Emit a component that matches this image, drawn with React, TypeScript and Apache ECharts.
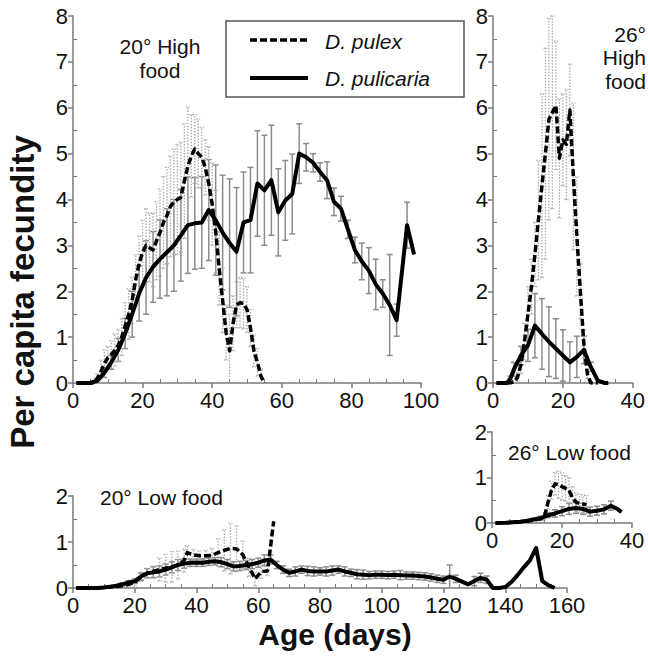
import React, { useEffect, useRef } from "react";
import * as echarts from "echarts";

const FONT = '"Liberation Sans", Arial, Helvetica, sans-serif';
const AXIS = "#7a7a7a";
const TXT = "#111";

// [day, mean, sd] — 20° High food
const pulex20High = [
  [1,0,0],[2,0,0],[3,0,0],[4,0,0],[5,0,0],[6,0,0],[7,0.1,0.1],[8,0.25,0.25],[9,0.42,0.3],[10,0.55,0.25],
  [11,0.62,0.3],[12,0.72,0.35],[13,0.82,0.35],[14,1.0,0.4],[15,1.25,0.5],[16,1.5,0.55],[17,1.8,0.5],[18,2.25,0.55],
  [19,2.6,0.6],[20,2.85,0.7],[21,3.0,0.8],[22,2.95,0.75],[23,2.9,0.8],[24,3.1,0.85],[25,3.28,0.95],[26,3.5,1.0],
  [27,3.65,1.05],[28,3.85,1.1],[29,3.95,1.15],[30,4.0,1.2],[31,4.05,1.2],[32,4.4,1.25],[33,4.72,1.3],[34,4.95,0.9],
  [35,5.1,0.75],[36,5.0,0.75],[37,4.92,0.65],[38,4.7,0.6],[39,4.35,0.8],[40,3.9,0.9],[41,3.3,0.9],[42,2.5,0.8],
  [43,1.8,0.7],[44,1.1,0.6],[45,0.7,0.8],[46,1.3,0.6],[47,1.7,0.5],[48,1.75,0.55],[49,1.73,0.55],[50,1.6,0.5],
  [51,1.2,0.4],[52,0.7,0.35],[53,0.45,0.3],[54,0.15,0.15],[55,0,0]
];
const pulicaria20High = [
  [1,0,0],[3,0,0],[5,0,0],[7,0.05,0.05],[9,0.22,0.1],[11,0.45,0.15],[13,0.72,0.25],[15,1.08,0.33],[17,1.5,0.5],
  [19,1.95,0.6],[21,2.3,0.8],[23,2.53,0.77],[25,2.7,0.85],[27,2.85,0.95],[29,3.0,1.0],[31,3.22,1.0],[33,3.44,1.05],
  [35,3.48,1.0],[37,3.5,1.0],[39,3.77,1.1],[41,3.55,1.2],[43,3.28,1.25],[45,3.05,1.4],[47,2.86,1.4],[49,3.5,1.1],
  [51,3.55,1.15],[53,4.35,1.15],[55,4.2,1.2],[57,4.42,1.2],[59,3.72,0.95],[61,3.98,0.87],[63,4.12,0.87],[65,5.0,0.65],
  [67,4.92,0.3],[69,4.8,0.2],[71,4.6,0.2],[73,4.42,0.4],[75,3.95,0.3],[77,3.8,0.27],[79,3.35,0.2],[81,2.9,0.28],
  [83,2.65,0.4],[85,2.45,0.5],[87,2.15,0.55],[89,1.95,0.3],[91,1.7,1.1],[93,1.37,0.35],[96,3.44,0.5],[98,2.8,0]
];

// 26° High food
const pulex26High = [
  [1,0,0],[2,0,0],[3,0,0],[4,0,0],[5,0,0],[6,0.03,0.03],[7,0.12,0.1],[8,0.4,0.2],[9,0.9,0.4],[10,1.5,0.6],
  [11,2.1,0.6],[12,2.8,0.7],[13,3.55,1.3],[14,4.3,2.0],[15,5.0,2.3],[16,5.75,2.2],[17,5.9,2.1],[18,6.05,1.4],
  [19,4.9,1.3],[20,5.3,1.0],[21,5.2,1.2],[22,5.95,1.0],[23,4.5,1.6],[24,3.2,1.3],[25,2.0,0.6],[26,0.85,0.3],
  [27,0.2,0.1],[28,0,0],[29,0,0],[30,0,0]
];
const pulicaria26High = [
  [1,0,0],[3,0,0],[4,0,0],[5,0.1,0.05],[6,0.3,0.15],[8,0.6,0.2],[10,0.82,0.35],[12,1.25,0.7],[14,1.07,0.77],
  [16,0.9,0.76],[18,0.75,0.65],[20,0.6,0.56],[22,0.45,0.45],[24,0.57,0.45],[26,0.72,0.3],[28,0.35,0.1],
  [30,0.05,0],[32,0,0],[33,0,0]
];

// 20° Low food
const pulex20Low = [
  [1,0,0],[4,0,0],[8,0,0],[12,0.02,0],[16,0.05,0.03],[18,0.08,0.05],[20,0.12,0.08],[22,0.24,0.1],[24,0.32,0.1],
  [26,0.36,0.12],[28,0.4,0.25],[30,0.43,0.3],[32,0.46,0.33],[34,0.5,0.3],[36,0.6,0.25],[37,0.77,0.15],[39,0.72,0.12],
  [41,0.7,0.1],[43,0.7,0.12],[45,0.71,0.15],[47,0.77,0.3],[49,0.82,0.45],[51,0.86,0.55],[53,0.85,0.5],[55,0.72,0.3],
  [57,0.45,0.2],[59,0.2,0.15],[61,0.36,0.15],[63,0.37,0.1],[65,1.45,0]
];
const pulicaria20Low = [
  [1,0,0],[4,0,0],[8,0,0],[10,0.01,0],[12,0.03,0],[14,0.05,0],[16,0.08,0.03],[18,0.12,0.04],[20,0.15,0.05],
  [22,0.25,0.08],[24,0.32,0.1],[26,0.34,0.12],[28,0.36,0.12],[30,0.4,0.12],[32,0.45,0.12],[34,0.5,0.12],
  [36,0.53,0.1],[38,0.55,0.08],[40,0.55,0.08],[42,0.55,0.08],[44,0.57,0.08],[46,0.58,0.08],[48,0.56,0.1],
  [50,0.52,0.1],[52,0.47,0.1],[54,0.48,0.1],[56,0.5,0.1],[58,0.52,0.1],[60,0.55,0.1],[62,0.6,0.12],[64,0.62,0.1],
  [66,0.5,0.08],[68,0.4,0.08],[70,0.33,0.08],[72,0.36,0.1],[74,0.4,0.08],[76,0.37,0.1],[78,0.36,0.1],
  [80,0.36,0.08],[82,0.36,0.1],[84,0.38,0.1],[86,0.4,0.08],[88,0.36,0.1],[90,0.33,0.08],[92,0.3,0.1],
  [94,0.29,0.1],[96,0.28,0.08],[98,0.29,0.08],[100,0.29,0.08],[102,0.28,0.08],[104,0.29,0.08],[106,0.28,0.1],
  [108,0.27,0.08],[110,0.27,0.08],[112,0.26,0.08],[114,0.25,0.08],[116,0.23,0.08],[118,0.2,0.08],[120,0.18,0.08],
  [122,0.25,0.25],[124,0.2,0.08],[126,0.14,0],[128,0.08,0],[130,0.15,0.1],[132,0.22,0.1],[134,0.18,0.08],
  [136,0,0],[138,0,0],[140,0.02,0],[142,0.13,0],[144,0.28,0],[146,0.45,0],[148,0.6,0],[150,0.87,0],
  [152,0.15,0],[154,0.06,0],[156,0,0]
];

// 26° Low food
const pulex26Low = [
  [1,0,0],[4,0,0],[8,0.02,0],[12,0.06,0.02],[14,0.1,0.05],[15,0.15,0.08],[16,0.45,0.15],[17,0.72,0.2],
  [18,0.86,0.25],[19,0.84,0.3],[20,0.8,0.3],[21,0.76,0.28],[22,0.72,0.28],[23,0.55,0.25],[24,0.46,0.2],
  [25,0.43,0.2],[26,0.42,0.2],[27,0.4,0.2]
];
const pulicaria26Low = [
  [1,0,0],[4,0.005,0],[8,0.03,0],[10,0.05,0.02],[12,0.08,0.03],[14,0.11,0.04],[16,0.17,0.05],[18,0.21,0.08],
  [20,0.26,0.1],[22,0.31,0.12],[24,0.33,0.12],[26,0.31,0.12],[28,0.25,0.1],[30,0.27,0.1],[32,0.3,0.1],
  [34,0.38,0.1],[36,0.3,0],[37,0.24,0]
];

const yTicksTop = [0, 8];
const yTicksBottom = [0, 2];
const xMaxes = [100, 40, 160, 40];

export default function App() {
  const ref = useRef<HTMLDivElement>(null);
  useEffect(() => {
    const chart = echarts.init(ref.current!, null, { renderer: "svg" });

    const grids = [
      { left: 73, top: 16, width: 348, height: 367 },
      { left: 493, top: 16, width: 140, height: 367 },
      { left: 73, top: 496, width: 494, height: 92 },
      { left: 492, top: 432, width: 140, height: 91 },
    ];
    const yMax = [yTicksTop[1], yTicksTop[1], yTicksBottom[1], yTicksBottom[1]];

    const xAxes: any[] = [];
    const yAxes: any[] = [];
    for (let g = 0; g < 4; g++) {
      xAxes.push({
        type: "value", gridIndex: g, position: "bottom", min: 0, max: xMaxes[g], interval: 20,
        axisLine: { show: true, onZero: false, lineStyle: { color: AXIS, width: 1.5 } },
        axisTick: { show: true, length: 5, lineStyle: { color: AXIS, width: 1.5 } },
        axisLabel: { fontSize: 22, color: TXT, fontFamily: FONT, margin: 6 },
        splitLine: { show: false },
      });
      yAxes.push({
        type: "value", gridIndex: g, position: "left", min: 0, max: yMax[g], interval: 1,
        axisLine: { show: true, onZero: false, lineStyle: { color: AXIS, width: 1.5 } },
        axisTick: { show: true, length: 5, lineStyle: { color: AXIS, width: 1.5 } },
        axisLabel: { fontSize: 22, color: TXT, fontFamily: FONT, margin: 5 },
        splitLine: { show: false },
      });
    }
    for (let g = 0; g < 4; g++) {
      xAxes.push({
        type: "value", gridIndex: g, position: "bottom", min: 0, max: xMaxes[g], interval: 20,
        axisLine: { show: false }, axisTick: { show: false, inside: true },
        minorTick: { show: true, splitNumber: 4, length: 4, lineStyle: { color: AXIS, width: 1 } },
        axisLabel: { show: false }, splitLine: { show: false },
      });
      yAxes.push({
        type: "value", gridIndex: g, position: "left", min: 0, max: yMax[g], interval: 1,
        axisLine: { show: false }, axisTick: { show: false, inside: true },
        minorTick: { show: true, splitNumber: 2, length: 4, lineStyle: { color: AXIS, width: 1 } },
        axisLabel: { show: false }, splitLine: { show: false },
      });
    }

    const errSeries = (data: number[][], g: number, dotted: boolean) => ({
      type: "custom", xAxisIndex: g, yAxisIndex: g, data, z: 1,
      encode: { x: 0, y: 1 },
      renderItem: (_p: any, api: any) => {
        const x = api.value(0), y = api.value(1), e = api.value(2);
        if (!e) return null;
        const lo = Math.max(0, y - e), hi = Math.min(yMax[g], y + e);
        const a = api.coord([x, lo]);
        const b = api.coord([x, hi]);
        const style = dotted
          ? { stroke: "#a9a9a9", lineWidth: 1.3, lineDash: [1.5, 1.5] }
          : { stroke: "#8c8c8c", lineWidth: 1.5 };
        const children: any[] = [
          { type: "line", shape: { x1: a[0], y1: a[1], x2: b[0], y2: b[1] }, style },
        ];
        const cw = dotted ? 2 : 3;
        children.push({ type: "line", shape: { x1: b[0] - cw, y1: b[1], x2: b[0] + cw, y2: b[1] }, style });
        if (lo > 0) children.push({ type: "line", shape: { x1: a[0] - cw, y1: a[1], x2: a[0] + cw, y2: a[1] }, style });
        return { type: "group", children };
      },
    });
    const lineSeries = (data: number[][], g: number, dashed: boolean) => ({
      type: "line", xAxisIndex: g, yAxisIndex: g, z: dashed ? 3 : 4,
      data: data.map((d) => [d[0], d[1]]),
      showSymbol: false, symbol: "none",
      lineStyle: { color: "#000", width: dashed ? 3.5 : 4, type: dashed ? [7, 3] : "solid", cap: "butt", join: "round" },
    });

    const panels = [
      [pulex20High, pulicaria20High],
      [pulex26High, pulicaria26High],
      [pulex20Low, pulicaria20Low],
      [pulex26Low, pulicaria26Low],
    ];
    const series: any[] = [];
    panels.forEach(([px, pc], g) => {
      series.push(errSeries(pc, g, false));
      series.push(errSeries(px, g, true));
      series.push(lineSeries(px, g, true));
      series.push(lineSeries(pc, g, false));
    });

    const txt = (text: string, x: number, y: number, size: number, opts: any = {}) => ({
      type: "text", x, y, rotation: opts.rotation || 0, z: 10,
      style: {
        text, x: 0, y: 0, fill: TXT,
        fontSize: size, fontFamily: FONT, fontWeight: opts.weight || "normal", fontStyle: opts.italic ? "italic" : "normal",
        align: opts.align || "left", verticalAlign: "middle",
      },
    });

    const option: any = {
      animation: false,
      backgroundColor: "#fff",
      grid: grids,
      xAxis: xAxes,
      yAxis: yAxes,
      series,
      graphic: [
        { type: "rect", z: 9, shape: { x: 226, y: 21, width: 238, height: 76 }, style: { fill: "#fff", stroke: "#555", lineWidth: 1.5 } },
        { type: "line", z: 10, shape: { x1: 250, y1: 40, x2: 308, y2: 40 }, style: { stroke: "#000", lineWidth: 3.5, lineDash: [7, 3] } },
        { type: "line", z: 10, shape: { x1: 250, y1: 78, x2: 308, y2: 78 }, style: { stroke: "#000", lineWidth: 4 } },
        txt("D. pulex", 325, 41, 21, { italic: true }),
        txt("D. pulicaria", 325, 78, 21, { italic: true }),
        txt("20° High", 160, 46, 21, { align: "center" }),
        txt("food", 160, 70, 21, { align: "center" }),
        txt("26°", 646, 34, 21, { align: "right" }),
        txt("High", 646, 57, 21, { align: "right" }),
        txt("food", 646, 81, 21, { align: "right" }),
        txt("20° Low food", 100, 497, 21),
        txt("26° Low food", 508, 452, 21),
        txt("Per capita fecundity", 22, 292, 33, { weight: "bold", align: "center", rotation: Math.PI / 2 }),
        txt("Age (days)", 335, 634, 30, { weight: "bold", align: "center" }),
      ],
    };
    chart.setOption(option);
    return () => chart.dispose();
  }, []);
  return (
    <div
      ref={ref}
      style={{ position: "fixed", left: 0, top: 0, width: 648, height: 663, background: "#fff" }}
    />
  );
}
